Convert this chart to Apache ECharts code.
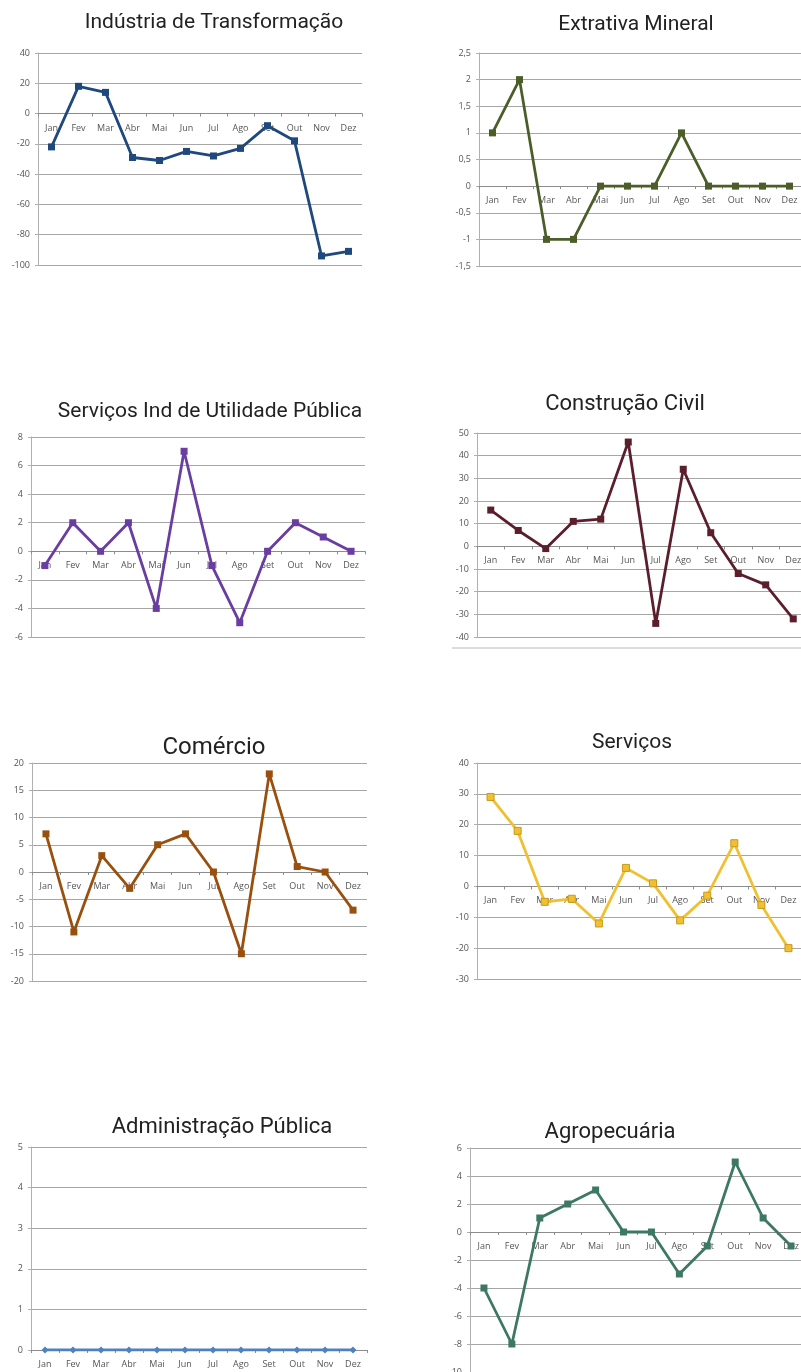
<!DOCTYPE html>
<html>
<head>
<meta charset="utf-8">
<script src="https://cdn.jsdelivr.net/npm/echarts@6/dist/echarts.min.js"></script>
<style>
  html, body { margin: 0; padding: 0; background: #ffffff; }
  #chart { width: 801px; height: 1372px; }
</style>
</head>
<body>
<div id="chart"></div>
<script>
// Monthly balance per economic sector
const months = ['Jan', 'Fev', 'Mar', 'Abr', 'Mai', 'Jun', 'Jul', 'Ago', 'Set', 'Out', 'Nov', 'Dez'];

const industriaTransformacao = [-22, 18, 14, -29, -31, -25, -28, -23, -8, -18, -94, -91];
const extrativaMineral = [1, 2, -1, -1, 0, 0, 0, 1, 0, 0, 0, 0];
const utilidadePublica = [-1, 2, 0, 2, -4, 7, -1, -5, 0, 2, 1, 0];
const construcaoCivil = [16, 7, -1, 11, 12, 46, -34, 34, 6, -12, -17, -32];
const comercio = [7, -11, 3, -3, 5, 7, 0, -15, 18, 1, 0, -7];
const servicos = [29, 18, -5, -4, -12, 6, 1, -11, -3, 14, -6, -20];
const administracaoPublica = [0, 0, 0, 0, 0, 0, 0, 0, 0, 0, 0, 0];
const agropecuaria = [-4, -8, 1, 2, 3, 0, 0, -3, -1, 5, 1, -1];

// Value-axis ranges [min, max, step]
const rangeIndustria = [-100, 40, 20];
const rangeExtrativa = [-1.5, 2.5, 0.5];
const rangeUtilidade = [-6, 8, 2];
const rangeConstrucao = [-40, 50, 10];
const rangeComercio = [-20, 20, 5];
const rangeServicos = [-30, 40, 10];
const rangeAdministracao = [0, 5, 1];
const rangeAgro = [-10, 6, 2];

// Panels: data + layout/style
const panels = [
  { title: 'Indústria de Transformação', data: industriaTransformacao, range: rangeIndustria,
    color: '#1F497D', grid: [38, 53, 324, 212], titlePos: [214, 12], titleSize: 21 },
  { title: 'Extrativa Mineral', data: extrativaMineral, range: rangeExtrativa,
    color: '#4B5E2A', grid: [479, 53, 324, 213], titlePos: [636, 14], titleSize: 21, comma: true },
  { title: 'Serviços Ind de Utilidade Pública', data: utilidadePublica, range: rangeUtilidade,
    color: '#6A3DA0', grid: [31, 437, 334, 200], titlePos: [210, 401], titleSize: 21 },
  { title: 'Construção Civil', data: construcaoCivil, range: rangeConstrucao,
    color: '#5A1E2C', grid: [477, 433, 330, 204], titlePos: [625, 393], titleSize: 22 },
  { title: 'Comércio', data: comercio, range: rangeComercio,
    color: '#99500F', grid: [32, 763, 335, 218], titlePos: [214, 736], titleSize: 24 },
  { title: 'Serviços', data: servicos, range: rangeServicos,
    color: '#F0C030', border: '#C89A18', grid: [477, 763, 325, 216], titlePos: [632, 732], titleSize: 21 },
  { title: 'Administração Pública', data: administracaoPublica, range: rangeAdministracao,
    color: '#4F81BD', grid: [31, 1147, 336, 203], titlePos: [222, 1116], titleSize: 22, symbol: 'diamond' },
  { title: 'Agropecuária', data: agropecuaria, range: rangeAgro,
    color: '#3C7862', grid: [470, 1148, 335, 224], titlePos: [610, 1121], titleSize: 22 }
];

const labelFont = '"Open Sans", "Noto Sans", sans-serif';
const gridColor = '#A6A6A6';

// Lift the category axis (line, ticks and labels) to the value-axis zero
function zeroOffset(p) {
  const [min, max] = p.range;
  return -((0 - min) / (max - min)) * p.grid[3];
}

const option = {
  backgroundColor: '#ffffff',
  animation: false,
  title: panels.map(p => ({
    text: p.title,
    left: p.titlePos[0],
    top: p.titlePos[1],
    textAlign: 'center',
    padding: 0,
    textStyle: { fontFamily: 'Roboto, sans-serif', fontWeight: 'normal', fontSize: p.titleSize, color: '#222222' }
  })),
  grid: panels.map(p => ({
    left: p.grid[0], top: p.grid[1], width: p.grid[2], height: p.grid[3],
    containLabel: false,
    outerBoundsMode: 'none'
  })),
  xAxis: panels.map((p, i) => ({
    type: 'category',
    gridIndex: i,
    data: months,
    boundaryGap: true,
    position: 'bottom',
    offset: zeroOffset(p),
    axisLine: { onZero: false, lineStyle: { color: '#8C8C8C', width: 1 } },
    axisTick: { show: true, length: 3, lineStyle: { color: '#8C8C8C' } },
    axisLabel: { interval: 0, margin: 10, fontSize: 9, color: '#555555', fontFamily: labelFont },
    splitLine: { show: false },
    z: 4
  })),
  yAxis: panels.map((p, i) => ({
    type: 'value',
    gridIndex: i,
    min: p.range[0],
    max: p.range[1],
    interval: p.range[2],
    axisLine: { show: true, lineStyle: { color: '#B0B0B0', width: 1 } },
    axisTick: { show: true, length: 3, lineStyle: { color: '#B0B0B0' } },
    axisLabel: {
      margin: 8, fontSize: 9, color: '#555555', fontFamily: labelFont,
      formatter: p.comma ? (v => String(v).replace('.', ',')) : (v => String(v))
    },
    splitLine: { show: true, lineStyle: { color: gridColor, width: 1.2 } }
  })),
  series: panels.map((p, i) => ({
    type: 'line',
    name: p.title,
    xAxisIndex: i,
    yAxisIndex: i,
    data: p.data,
    symbol: p.symbol || 'rect',
    symbolSize: 7,
    lineStyle: { color: p.color, width: 2.8 },
    itemStyle: { color: p.color, borderColor: p.border || p.color, borderWidth: p.border ? 1 : 0 },
    z: 5
  })),
  graphic: [
    // frame edge under the Construção Civil panel
    { type: 'line', shape: { x1: 452, y1: 648, x2: 801, y2: 648 }, style: { stroke: '#B8B8B8', lineWidth: 1 } }
  ]
};

const chart = echarts.init(document.getElementById('chart'), null, { renderer: 'canvas' });
chart.setOption(option);
</script>
</body>
</html>
